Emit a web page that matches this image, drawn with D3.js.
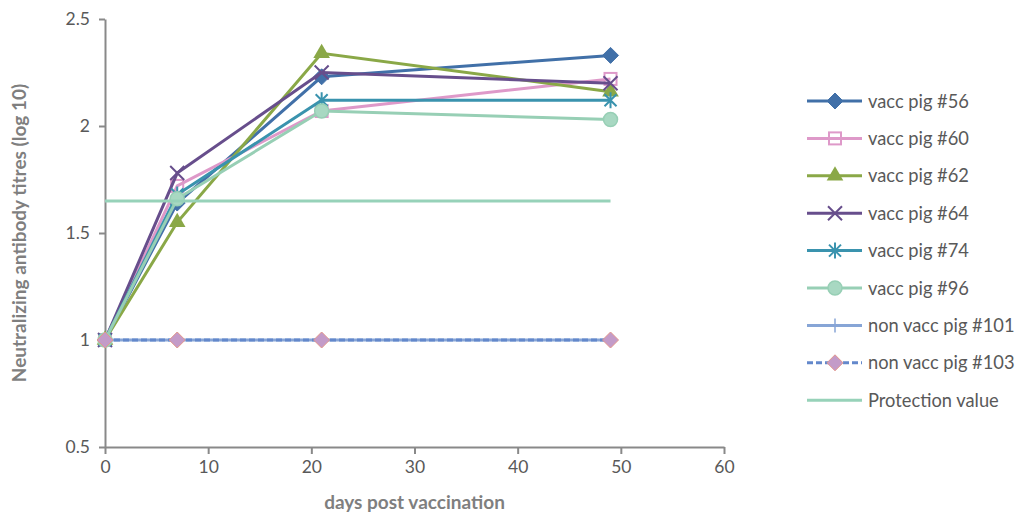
<!DOCTYPE html>
<html>
<head>
<meta charset="utf-8">
<script src="https://cdn.jsdelivr.net/npm/d3@7"></script>
<style>
  body { margin: 0; background: #fff; }
  svg { display: block; font-family: Lato, sans-serif; }
  .axis path, .axis line { stroke: #898989; stroke-width: 2px; }
  .axis text { fill: #595959; font-size: 17.5px; font-family: Lato, sans-serif; }
</style>
</head>
<body>
<div id="chart"></div>
<script>
// sampling days
let days = [0, 7, 21, 49];

// log10 titres per animal
let pig56 = [1, 1.64, 2.23, 2.33];
let pig60 = [1, 1.72, 2.07, 2.22];
let pig62 = [1, 1.55, 2.34, 2.16];
let pig64 = [1, 1.78, 2.25, 2.2];
let pig74 = [1, 1.68, 2.12, 2.12];
let pig96 = [1, 1.66, 2.07, 2.03];
let pig101 = [1, 1, 1, 1];
let pig103 = [1, 1, 1, 1];
let protection = [1.65, 1.65, 1.65, 1.65];

let seriesNames = ["vacc pig #56", "vacc pig #60", "vacc pig #62", "vacc pig #64",
  "vacc pig #74", "vacc pig #96", "non vacc pig #101", "non vacc pig #103", "Protection value"];

let xTicks = [0, 10, 20, 30, 40, 50, 60];
let yTicks = [0.5, 1, 1.5, 2, 2.5];

let width = 1025, height = 519;
let margin = {left: 105, top: 19, right: 301, bottom: 72};

let series = [
  {name: seriesNames[0], values: pig56, color: "#4170A8", marker: "diamond"},
  {name: seriesNames[1], values: pig60, color: "#DE99C9", marker: "square"},
  {name: seriesNames[2], values: pig62, color: "#8AA847", marker: "triangle"},
  {name: seriesNames[3], values: pig64, color: "#674E8C", marker: "x"},
  {name: seriesNames[4], values: pig74, color: "#3A93AE", marker: "star"},
  {name: seriesNames[5], values: pig96, color: "#97CFB5", marker: "circle"},
  {name: seriesNames[6], values: pig101, color: "#87A5D6", marker: "plus"},
  {name: seriesNames[7], values: pig103, color: "#6388CB", marker: "diamond2", dash: "6,3"},
  {name: seriesNames[8], values: protection, color: "#97D2B9", marker: "none"}
];

let svg = d3.select("#chart").append("svg")
  .attr("width", width)
  .attr("height", height);

let x = d3.scaleLinear().domain([0, 60]).range([margin.left, width - margin.right]);
let y = d3.scaleLinear().domain([0.5, 2.5]).range([height - margin.bottom, margin.top]);

svg.append("g")
  .attr("class", "axis")
  .attr("transform", `translate(0,${height - margin.bottom})`)
  .call(d3.axisBottom(x).tickValues(xTicks).tickSize(7).tickSizeOuter(0).tickPadding(7).tickFormat(d3.format("d")));

svg.append("g")
  .attr("class", "axis")
  .attr("transform", `translate(${margin.left},0)`)
  .call(d3.axisLeft(y).tickValues(yTicks).tickSize(6).tickSizeOuter(0).tickPadding(9).tickFormat(d => d));

// axis titles
svg.append("text")
  .attr("x", x(30))
  .attr("y", 509)
  .attr("text-anchor", "middle")
  .attr("fill", "#7f7f7f")
  .attr("font-weight", "bold")
  .attr("font-size", "19px")
  .text("days post vaccination");

svg.append("text")
  .attr("transform", `translate(26,${y(1.5)}) rotate(-90)`)
  .attr("text-anchor", "middle")
  .attr("fill", "#7f7f7f")
  .attr("font-weight", "bold")
  .attr("font-size", "19px")
  .text("Neutralizing antibody titres (log 10)");

let drawMarker = (g, type, color, cx, cy) => {
  if (type == "diamond") {
    g.append("path").attr("d", `M${cx},${cy-8}L${cx+8},${cy}L${cx},${cy+8}L${cx-8},${cy}Z`)
      .attr("fill", color).attr("stroke", color);
  } else if (type == "diamond2") {
    g.append("path").attr("d", `M${cx},${cy-8}L${cx+8},${cy}L${cx},${cy+8}L${cx-8},${cy}Z`)
      .attr("fill", "#C39BC8").attr("stroke", "#E3968C").attr("stroke-width", 1);
  } else if (type == "square") {
    g.append("rect").attr("x", cx - 6).attr("y", cy - 6).attr("width", 12).attr("height", 12)
      .attr("fill", "none").attr("stroke", color).attr("stroke-width", 2);
  } else if (type == "triangle") {
    g.append("path").attr("d", d3.symbol(d3.symbolTriangle, 120)())
      .attr("transform", `translate(${cx},${cy})`)
      .attr("fill", color);
  } else if (type == "x") {
    g.append("path").attr("d", `M${cx-7},${cy-7}L${cx+7},${cy+7}M${cx-7},${cy+7}L${cx+7},${cy-7}`)
      .attr("stroke", color).attr("stroke-width", 2);
  } else if (type == "star") {
    g.append("path").attr("d", `M${cx-6},${cy-6}L${cx+6},${cy+6}M${cx-6},${cy+6}L${cx+6},${cy-6}M${cx},${cy-8}L${cx},${cy+8}`)
      .attr("stroke", color).attr("stroke-width", 2);
  } else if (type == "circle") {
    g.append("circle").attr("cx", cx).attr("cy", cy).attr("r", 7)
      .attr("fill", "#A8D8C2").attr("stroke", color).attr("stroke-width", 1.5);
  } else if (type == "plus") {
    g.append("path").attr("d", `M${cx},${cy-7}L${cx},${cy+7}`)
      .attr("stroke", color).attr("stroke-width", 1.5);
  }
};

let line = d3.line().x((d, i) => x(days[i])).y(d => y(d));

let plot = svg.append("g");
series.forEach(s => {
  let g = plot.append("g");
  g.append("path")
    .datum(s.values)
    .attr("d", line)
    .attr("fill", "none")
    .attr("stroke", s.color)
    .attr("stroke-width", 3)
    .attr("stroke-dasharray", s.dash || null);
  s.values.forEach((v, i) => drawMarker(g, s.marker, s.color, x(days[i]), y(v)));
});

// legend
let legend = svg.append("g");
series.forEach((s, i) => {
  let ly = 101 + i * 37.4;
  let g = legend.append("g");
  g.append("line")
    .attr("x1", 807).attr("x2", 862).attr("y1", ly).attr("y2", ly)
    .attr("stroke", s.color).attr("stroke-width", 3)
    .attr("stroke-dasharray", s.dash || null);
  drawMarker(g, s.marker, s.color, 835, ly);
  g.append("text")
    .attr("x", 868).attr("y", ly + 6.5)
    .attr("fill", "#595959")
    .attr("font-size", "18.3px")
    .text(s.name);
});
</script>
</body>
</html>
